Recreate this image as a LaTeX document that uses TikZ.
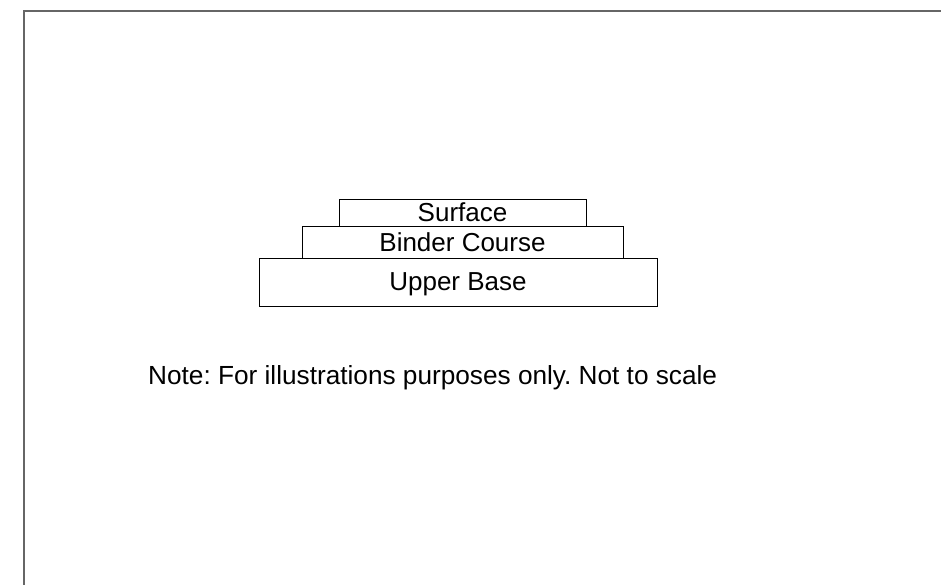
\documentclass[tikz,border=0pt]{standalone}
\usepackage{fontspec}
\setmainfont{Liberation Sans}
\usetikzlibrary{positioning}
\frenchspacing
\tikzset{
  layer/.style={draw, line width=0.8pt, inner sep=0pt, outer sep=0pt, text depth=0pt, font=\fontsize{26}{30}\selectfont},
  frameline/.style={draw=black!60, line width=1.6pt}
}

\begin{document}
\begin{tikzpicture}[x=1pt, y=-1pt]
  % page area
  \useasboundingbox (0,0) rectangle (941,585);
  % frame on the left and top
  \draw[frameline] (24,585) -- (24,11) -- (941,11);
  % pavement layers
  \node[layer, minimum width=398pt, minimum height=48pt] (base) at (458,282) {Upper Base};
  \node[layer, minimum width=321pt, minimum height=32pt] (binder) at (462.5,242) {Binder Course};
  \node[layer, minimum width=247pt, minimum height=27pt] (surface) at (462.5,212.5) {Surface};
  % note
  \node[anchor=base west, inner sep=0pt, font=\fontsize{26.2}{30}\selectfont] (note) at (148,384) {Note: For illustrations purposes only. Not to scale};
\end{tikzpicture}
\end{document}
